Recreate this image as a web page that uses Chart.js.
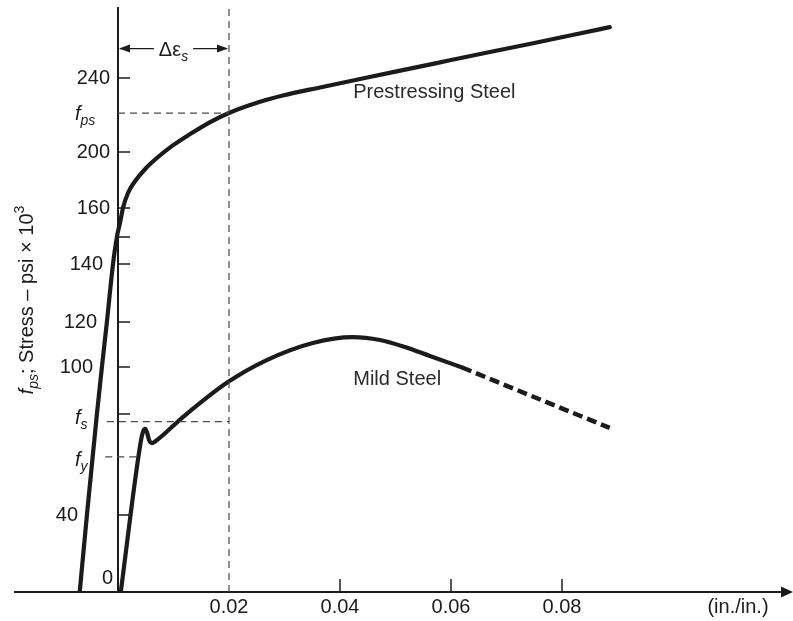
<!DOCTYPE html>
<html>
<head>
<meta charset="utf-8">
<script src="https://cdn.jsdelivr.net/npm/chart.js@4"></script>
<style>html,body{margin:0;padding:0;background:#fff;overflow:hidden}</style>
</head>
<body>
<canvas id="c" width="793" height="621"></canvas>
<script>
// ---------------- data ----------------
// strain in in./in., stress in ksi (psi x 10^3)
const prestressStrain = [-0.0069, -0.0056, -0.0038, -0.0029, -0.0020, -0.0009, -0.0002, 0.0004, 0.0009,
  0.0018, 0.0031, 0.0049, 0.0070, 0.0097, 0.0130, 0.0166, 0.0200,
  0.0256, 0.0297, 0.0364, 0.0449, 0.0526, 0.0598, 0.0670, 0.0748, 0.0823, 0.0886];
const prestressStress = [0, 40, 80, 100, 120, 140, 150, 155.2, 160,
  170.7, 179.3, 187.9, 195.7, 203.2, 209.7, 216.2, 221.1,
  227.1, 230.5, 234.9, 240.3, 245.1, 249.6, 254.1, 258.9, 263.6, 267.6];

const mildStrain = [0.0005, 0.0040, 0.0045, 0.0049, 0.0052, 0.0056, 0.0061, 0.0068,
  0.0117, 0.0198, 0.0268, 0.0351, 0.0423, 0.0472, 0.0517, 0.0562, 0.0620];
const mildStress = [0, 67.7, 72.9, 74.1, 72.9, 69.7, 68.5, 69.3,
  78.8, 93.6, 103.1, 110.7, 113.3, 112.0, 108.9, 104.9, 99.8];

const mildExtStrain = [0.0620, 0.0753, 0.0886];
const mildExtStress = [99.8, 86.9, 74.5];

const refStrain = 0.02;            // strain of the vertical dashed line
const markerNames = ['ps', 's', 'y'];
const markerValues = [221, 77, 63]; // f_ps, f_s, f_y
const markerStartStrain = [0, -0.0020, -0.0023];
const markerEndStrain = [0.02, 0.02, 0.0037];

const yTickValues = [0, 40, 80, 100, 120, 140, 150, 160, 200, 240];
const yTickLabels = ['0', '40', '', '100', '120', '140', '', '160', '200', '240'];
const xTickValues = [0.02, 0.04, 0.06, 0.08];
const xTickLabels = ['0.02', '0.04', '0.06', '0.08'];
const xUnitLabel = '(in./in.)';
const seriesNames = ['Prestressing Steel', 'Mild Steel'];
const seriesLabelAt = [[0.057, 231.9], [0.0503, 94.5]];
const deltaLabelStress = 256;
const yMax = 278;

// ---------------- schematic (non-uniform) stress axis ----------------
// stress value -> fraction of the axis height, as drawn in the original schematic
const yKnots = [[0, 0], [40, 0.13185], [80, 0.30479], [100, 0.38527], [120, 0.46233],
  [140, 0.56164], [150, 0.60788], [160, 0.65753], [200, 0.75342], [240, 0.88014], [278, 1]];
function interp(knots, v, a, b) {
  let i = 0;
  while (i < knots.length - 2 && v > knots[i + 1][a]) i++;
  const k0 = knots[i], k1 = knots[i + 1];
  return k0[b] + (v - k0[a]) * (k1[b] - k0[b]) / (k1[a] - k0[a]);
}
class PiecewiseScale extends Chart.LinearScale {
  getPixelForValue(v) {
    if (v === null || v === undefined || isNaN(v)) return NaN;
    return this.getPixelForDecimal(interp(yKnots, v, 0, 1));
  }
  getValueForPixel(p) {
    return interp(yKnots, this.getDecimalForPixel(p), 1, 0);
  }
}
PiecewiseScale.id = 'piecewise';
Chart.register(PiecewiseScale);

// ---------------- drawing ----------------
const FONT = '"Liberation Sans", Arial, Helvetica, sans-serif';
const INK = '#1b1b1b';
const labelLayout = {
  yGap: {0: 5, 40: 40, 100: 25, 120: 21, 140: 15}, yGapDefault: 8,
  yDy: {0: -14},
  markerLeft: 43, markerDy: {ps: 7, s: 2, y: 9}
};

const xy = (xs, ys) => xs.map((v, i) => ({x: v, y: ys[i]}));

const refDash = {borderColor: '#4a4a4a', borderWidth: 1.2, borderDash: [7, 5], pointRadius: 0, showLine: true, tension: 0};
const datasets = [
  Object.assign({data: [{x: refStrain, y: 0}, {x: refStrain, y: yMax}]}, refDash),
  ...markerValues.map((v, i) => Object.assign({data: [{x: markerStartStrain[i], y: v}, {x: markerEndStrain[i], y: v}]}, refDash)),
  {label: seriesNames[0], data: xy(prestressStrain, prestressStress), borderColor: INK, borderWidth: 4.2,
   pointRadius: 0, showLine: true, cubicInterpolationMode: 'monotone', borderCapStyle: 'round', borderJoinStyle: 'round'},
  {label: seriesNames[1], data: xy(mildStrain, mildStress), borderColor: INK, borderWidth: 4.2,
   pointRadius: 0, showLine: true, cubicInterpolationMode: 'monotone', borderCapStyle: 'round', borderJoinStyle: 'round'},
  {label: seriesNames[1] + ' (extrapolated)', data: xy(mildExtStrain, mildExtStress), borderColor: INK, borderWidth: 4.5,
   borderDash: [10, 5], pointRadius: 0, showLine: true, tension: 0}
];

function seg(ctx, x1, y1, x2, y2) { ctx.beginPath(); ctx.moveTo(x1, y1); ctx.lineTo(x2, y2); ctx.stroke(); }
function pieces(ctx, list, x, y) {
  list.forEach(p => { ctx.font = p.f; ctx.fillText(p.t, x, y + (p.dy || 0)); x += ctx.measureText(p.t).width; });
  return x;
}
function piecesWidth(ctx, list) {
  return list.reduce((w, p) => { ctx.font = p.f; return w + ctx.measureText(p.t).width; }, 0);
}

const annotate = {
  id: 'annotate',
  afterDraw(chart) {
    const {ctx, chartArea: ca, scales: {x, y}} = chart;
    const ax = x.getPixelForValue(0);
    const L = labelLayout;
    ctx.save();
    ctx.fillStyle = INK; ctx.strokeStyle = INK;
    // x-axis arrowhead
    ctx.beginPath();
    ctx.moveTo(ca.right - 4, ca.bottom - 5.5);
    ctx.lineTo(ca.right + 8, ca.bottom);
    ctx.lineTo(ca.right - 4, ca.bottom + 5.5);
    ctx.closePath(); ctx.fill();
    // y tick marks (inside)
    ctx.lineWidth = 1.5;
    yTickValues.forEach(v => { if (v === 0) return; const py = y.getPixelForValue(v); seg(ctx, ax, py, ax + 12, py); });
    // x tick marks (inside)
    xTickValues.forEach(v => { if (v === refStrain) return; const px = x.getPixelForValue(v); seg(ctx, px, ca.bottom, px, ca.bottom - 13); });
    // y tick labels
    ctx.font = '20px ' + FONT; ctx.textAlign = 'right'; ctx.textBaseline = 'middle';
    yTickValues.forEach((v, i) => {
      const t = yTickLabels[i]; if (!t) return;
      const gap = (L.yGap[v] !== undefined) ? L.yGap[v] : L.yGapDefault;
      const dy = L.yDy[v] || 0;
      ctx.fillText(t, ax - gap, y.getPixelForValue(v) + dy);
    });
    // f_ps, f_s, f_y labels
    ctx.textAlign = 'left'; ctx.textBaseline = 'alphabetic';
    markerNames.forEach((n, i) => {
      const py = y.getPixelForValue(markerValues[i]) + L.markerDy[n];
      pieces(ctx, [{t: 'f', f: 'italic 20px ' + FONT}, {t: n, f: 'italic 14px ' + FONT, dy: 5}], ax - L.markerLeft, py);
    });
    // delta epsilon_s dimension arrow
    const ay = y.getPixelForValue(deltaLabelStress);
    const x0 = ax, x1 = x.getPixelForValue(refStrain);
    const lab = [{t: '\u0394\u03b5', f: '20px ' + FONT}, {t: 's', f: 'italic 14px ' + FONT, dy: 5}];
    const lw = piecesWidth(ctx, lab);
    const cx = (x0 + x1) / 2;
    ctx.lineWidth = 1.3;
    seg(ctx, x0 + 2, ay, cx - lw / 2 - 5, ay);
    seg(ctx, cx + lw / 2 + 5, ay, x1 - 2, ay);
    ctx.beginPath(); ctx.moveTo(x0 + 1, ay); ctx.lineTo(x0 + 12, ay - 4); ctx.lineTo(x0 + 12, ay + 4); ctx.closePath(); ctx.fill();
    ctx.beginPath(); ctx.moveTo(x1 - 1, ay); ctx.lineTo(x1 - 12, ay - 4); ctx.lineTo(x1 - 12, ay + 4); ctx.closePath(); ctx.fill();
    pieces(ctx, lab, cx - lw / 2, ay + 7);
    // series labels
    ctx.font = '20px ' + FONT; ctx.textAlign = 'center'; ctx.textBaseline = 'middle'; ctx.fillStyle = '#2a2a2a';
    seriesNames.forEach((s, i) => ctx.fillText(s, x.getPixelForValue(seriesLabelAt[i][0]), y.getPixelForValue(seriesLabelAt[i][1])));
    // unit label on x axis
    ctx.fillStyle = INK;
    ctx.fillText(xUnitLabel, 738, ca.bottom + 15);
    // y-axis title (rotated)
    const title = [{t: 'f', f: 'italic 20px ' + FONT}, {t: 'ps', f: 'italic 14px ' + FONT, dy: 5},
      {t: '; Stress \u2013 psi \u00d7 10', f: '20px ' + FONT}, {t: '3', f: '14px ' + FONT, dy: -9}];
    ctx.textAlign = 'left'; ctx.textBaseline = 'alphabetic';
    ctx.translate(33, (ca.top + ca.bottom) / 2);
    ctx.rotate(-Math.PI / 2);
    const tw = piecesWidth(ctx, title);
    pieces(ctx, title, -tw / 2, 0);
    ctx.restore();
  }
};

new Chart(document.getElementById('c'), {
  type: 'scatter',
  data: {datasets},
  options: {
    responsive: false,
    animation: false,
    events: [],
    layout: {padding: {left: 15, right: 8, top: 8, bottom: 1}},
    plugins: {legend: {display: false}, tooltip: {enabled: false}},
    scales: {
      x: {
        type: 'linear', position: 'bottom',
        min: -103 / 5550, max: 667 / 5550,
        grid: {display: false, drawTicks: false},
        border: {display: true, color: INK, width: 2},
        ticks: {autoSkip: false, maxRotation: 0, padding: 3, color: INK,
                font: {family: FONT, size: 20},
                callback: (v, i) => xTickLabels[i]},
        afterBuildTicks: s => { s.ticks = xTickValues.map(v => ({value: v})); },
        afterFit: s => { s.height = 28; }
      },
      y: {
        type: 'piecewise', position: {x: 0},
        min: 0, max: yMax,
        grid: {display: false, drawTicks: false},
        border: {display: true, color: INK, width: 2},
        ticks: {display: false},
        afterBuildTicks: s => { s.ticks = yTickValues.map(v => ({value: v})); }
      }
    }
  },
  plugins: [annotate]
});
</script>
</body>
</html>
